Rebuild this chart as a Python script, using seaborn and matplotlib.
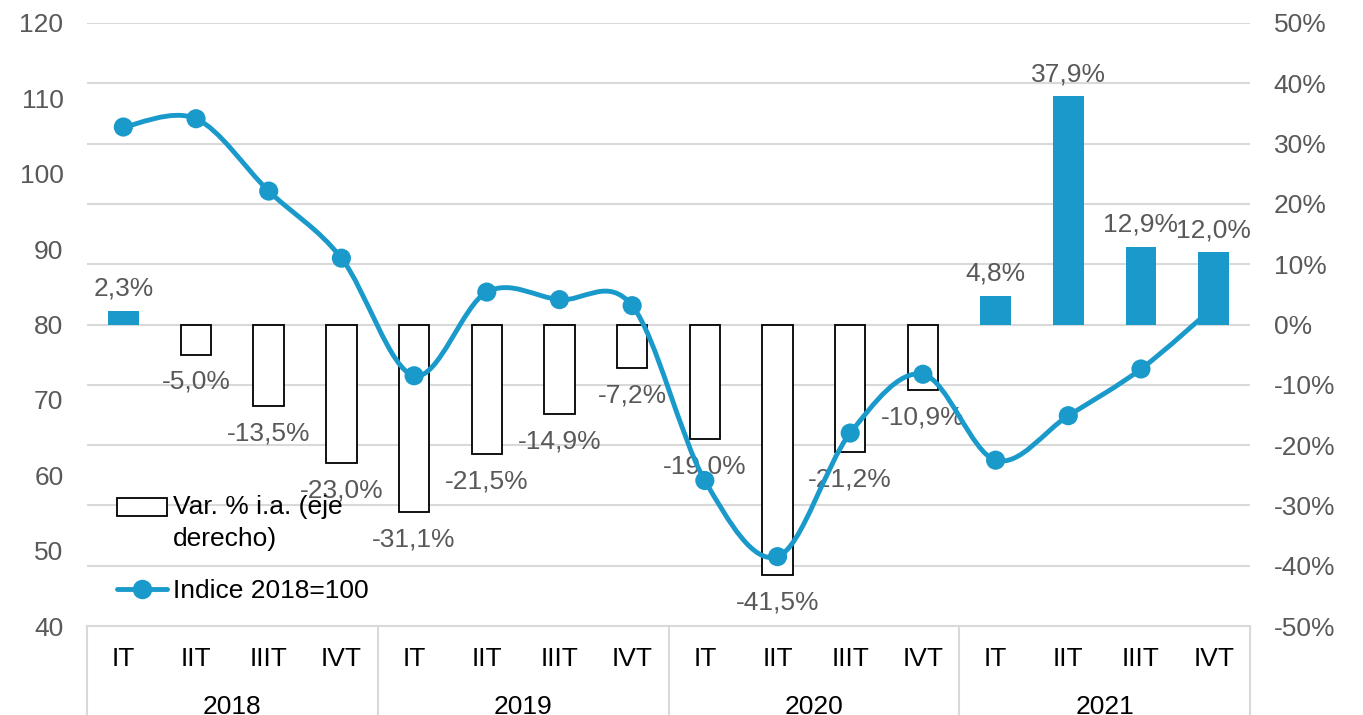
import numpy as np
import pandas as pd
import matplotlib
matplotlib.use("Agg")
import matplotlib.pyplot as plt
import seaborn as sns
from matplotlib.path import Path
from matplotlib.patches import PathPatch, Patch, Rectangle
from matplotlib.lines import Line2D
from matplotlib.legend_handler import HandlerPatch
import matplotlib.transforms as mtransforms

# ---------------- data ----------------
years = ["2018", "2019", "2020", "2021"]
quarters = ["IT", "IIT", "IIIT", "IVT"]
var_pct = [2.3, -5.0, -13.5, -23.0,
           -31.1, -21.5, -14.9, -7.2,
           -19.0, -41.5, -21.2, -10.9,
           4.8, 37.9, 12.9, 12.0]
indice = [106.2, 107.3, 97.7, 88.8,
          73.2, 84.3, 83.3, 82.5,
          59.3, 49.2, 65.6, 73.4,
          62.0, 67.9, 74.1, 82.3]
bar_label = "Var. % i.a. (eje\nderecho)"
line_label = "Indice 2018=100"

BLUE = "#1a9acb"
GREY = "#595959"
GRID = "#d9d9d9"
FS = 19

sns.set_theme(style="white")
plt.rcParams["font.family"] = ["Liberation Sans", "DejaVu Sans"]

periods = [f"{y} {q}" for y in years for q in quarters]
df = pd.DataFrame({"period": periods, "var": var_pct, "indice": indice,
                   "pos": np.arange(len(periods))})

fig = plt.figure(figsize=(13.63, 7.15), dpi=100)
ax = fig.add_axes([87 / 1363, 1 - 626 / 715, (1250 - 87) / 1363, (626 - 23) / 715])

# bars (right axis, percent)
sns.barplot(data=df, x="period", y="var", ax=ax, color=BLUE, saturation=1,
            width=0.42, zorder=2)
for p, v in zip(ax.patches, var_pct):
    if v < 0:
        p.set_facecolor("white")
        p.set_edgecolor("black")
        p.set_linewidth(1.3)
    else:
        p.set_facecolor(BLUE)
        p.set_edgecolor(BLUE)
        p.set_linewidth(0)

ax.set_ylim(-50, 50)
ax.set_xlim(-0.5, len(periods) - 0.5)
ax.set_yticks(np.arange(-50, 51, 10))
ax.set_yticklabels([f"{t}%" for t in range(-50, 51, 10)])
ax.set_xlabel("")
ax.set_ylabel("")
ax.set_xticks(range(len(periods)))
ax.set_xticklabels(quarters * len(years))
ax.grid(axis="y", color=GRID, linewidth=1.5, zorder=0)
ax.set_axisbelow(True)
for s in ["top", "left", "right"]:
    ax.spines[s].set_visible(False)
ax.spines["bottom"].set_color(GRID)
ax.spines["bottom"].set_linewidth(1.5)

# data labels
for i, v in enumerate(var_pct):
    txt = f"{v:.1f}%".replace(".", ",")
    if v >= 0:
        ax.annotate(txt, (i, v), xytext=(0, 7), textcoords="offset points",
                    ha="center", va="bottom", fontsize=FS, color=GREY, zorder=5)
    else:
        ax.annotate(txt, (i, v), xytext=(0, -11), textcoords="offset points",
                    ha="center", va="top", fontsize=FS, color=GREY, zorder=5)

# year labels and separators
trans = mtransforms.blended_transform_factory(ax.transData, ax.transAxes)
for k, y in enumerate(years):
    ax.text(k * 4 + 1.5, -0.135, y, transform=trans, ha="center", va="center",
            fontsize=FS, color="black")
for k in range(len(years) + 1):
    ax.plot([k * 4 - 0.5, k * 4 - 0.5], [0, -0.16], transform=trans,
            color=GRID, linewidth=1.5, clip_on=False)

# line (left axis, index)
ax2 = ax.twinx()
ax2.set_ylim(40, 120)
ax2.set_yticks(np.arange(40, 121, 10))
for s in ["top", "left", "right", "bottom"]:
    ax2.spines[s].set_visible(False)
ax2.grid(False)

x = df["pos"].to_numpy(dtype=float)
y = df["indice"].to_numpy(dtype=float)
pts = np.column_stack([x, y])
ext = np.vstack([pts[0], pts, pts[-1]])
verts = [tuple(pts[0])]
codes = [Path.MOVETO]
for i in range(len(pts) - 1):
    p0, p1, p2, p3 = ext[i], ext[i + 1], ext[i + 2], ext[i + 3]
    c1 = p1 + (p2 - p0) / 6.0
    c2 = p2 - (p3 - p1) / 6.0
    verts += [tuple(c1), tuple(c2), tuple(p2)]
    codes += [Path.CURVE4] * 3
ax2.add_patch(PathPatch(Path(verts, codes), fill=False, edgecolor=BLUE,
                        linewidth=3.5, capstyle="round", joinstyle="round", zorder=3))
sns.scatterplot(data=df, x="pos", y="indice", ax=ax2, color=BLUE, s=190,
                edgecolor="none", zorder=4, legend=False)
ax2.set_xlabel("")
ax2.set_ylabel("")
ax2.set_xlim(-0.5, len(periods) - 0.5)

# tick sides: percent on the right, index on the left
ax.yaxis.tick_right()
ax2.yaxis.tick_left()
ax.tick_params(axis="x", length=0, pad=15, labelsize=FS, labelcolor="black")
ax.tick_params(axis="y", length=0, pad=17, labelsize=FS, labelcolor=GREY)
ax2.tick_params(axis="y", length=0, pad=17, labelsize=FS, labelcolor=GREY)


def top_patch(legend, orig_handle, xdescent, ydescent, width, height, fontsize):
    return Rectangle((-xdescent, -ydescent + 0.62 * fontsize), width, height)


handles = [Patch(facecolor="white", edgecolor="black", linewidth=1.3),
           Line2D([0], [0], color=BLUE, linewidth=3.5, marker="o", markersize=13)]
leg = ax2.legend(handles, [bar_label, line_label], loc="lower left",
                 bbox_to_anchor=(0.005, -0.001), frameon=False, fontsize=FS,
                 handlelength=1.9, handletextpad=0.25, labelspacing=1.05,
                 labelcolor="black",
                 handler_map={Patch: HandlerPatch(patch_func=top_patch)})
leg.get_texts()[0].set_linespacing(1.45)

fig.savefig("out.png", dpi=100)
